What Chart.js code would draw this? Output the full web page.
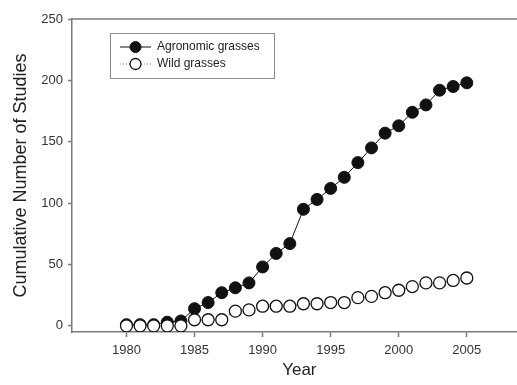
<!DOCTYPE html>
<html>
<head>
<meta charset="utf-8">
<script src="https://cdn.jsdelivr.net/npm/chart.js@4.4.1/dist/chart.umd.min.js"></script>
<style>
  html, body { margin: 0; padding: 0; background: #fff; overflow: hidden; }
  #wrap { width: 517px; height: 385px; overflow: hidden; }
</style>
</head>
<body>
<div id="wrap"><canvas id="chart" width="534" height="385"></canvas></div>
<script>
// cumulative study counts per year
const years = [1980, 1981, 1982, 1983, 1984, 1985, 1986, 1987, 1988, 1989, 1990, 1991, 1992,
  1993, 1994, 1995, 1996, 1997, 1998, 1999, 2000, 2001, 2002, 2003, 2004, 2005];
const agronomic = [1, 1, 1, 3, 4, 14, 19, 27, 31, 35, 48, 59, 67,
  95, 103, 112, 121, 133, 145, 157, 163, 174, 180, 192, 195, 198];
const wild = [0, 0, 0, 0, 0, 5, 5, 5, 12, 13, 16, 16, 16,
  18, 18, 19, 19, 23, 24, 27, 29, 32, 35, 35, 37, 39];
const yTicks = [0, 50, 100, 150, 200, 250];
const xTicks = [1980, 1985, 1990, 1995, 2000, 2005];

const FONT = "'Liberation Sans', Arial, sans-serif";
const AXIS = "#7a7a7a";

const toXY = (vals) => vals.map((v, i) => ({ x: years[i], y: v }));

// top border line and boxed legend with line + marker samples
const framePlugin = {
  id: "frame",
  afterDraw(chart) {
    const ctx = chart.ctx;
    const a = chart.chartArea;
    ctx.save();
    ctx.strokeStyle = AXIS;
    ctx.lineWidth = 1.5;
    ctx.beginPath();
    ctx.moveTo(a.left, a.top);
    ctx.lineTo(a.right, a.top);
    ctx.stroke();

    ctx.strokeStyle = "#8a8a8a";
    ctx.lineWidth = 1;
    ctx.strokeRect(110.5, 33.5, 164, 45);

    const rows = chart.data.datasets;
    rows.forEach((ds, i) => {
      const y = 47 + i * 17;
      ctx.strokeStyle = ds.borderColor;
      ctx.lineWidth = ds.borderWidth;
      ctx.setLineDash(ds.borderDash || []);
      ctx.beginPath();
      ctx.moveTo(120, y);
      ctx.lineTo(151, y);
      ctx.stroke();
      ctx.setLineDash([]);
      ctx.beginPath();
      ctx.arc(135.5, y, 5.5, 0, Math.PI * 2);
      ctx.fillStyle = ds.pointBackgroundColor;
      ctx.fill();
      ctx.strokeStyle = ds.pointBorderColor;
      ctx.lineWidth = ds.pointBorderWidth;
      ctx.stroke();
      ctx.fillStyle = "#222";
      ctx.font = "12px " + FONT;
      ctx.textBaseline = "middle";
      ctx.fillText(ds.label, 157, y);
    });
    ctx.restore();
  },
};

new Chart(document.getElementById("chart"), {
  type: "line",
  data: {
    datasets: [
      {
        label: "Agronomic grasses",
        data: toXY(agronomic),
        borderColor: "#111",
        borderWidth: 1,
        pointRadius: 6,
        pointBackgroundColor: "#111",
        pointBorderColor: "#111",
        pointBorderWidth: 1,
        order: 1,
      },
      {
        label: "Wild grasses",
        data: toXY(wild),
        borderColor: "#777",
        borderWidth: 1,
        borderDash: [1, 2],
        pointRadius: 6,
        pointBackgroundColor: "#fff",
        pointBorderColor: "#111",
        pointBorderWidth: 1.3,
        order: 0,
      },
    ],
  },
  options: {
    responsive: false,
    animation: false,
    layout: { padding: { top: 19, left: 0, right: 0, bottom: 0 } },
    plugins: { legend: { display: false }, tooltip: { enabled: false } },
    scales: {
      x: {
        type: "linear",
        min: 1976,
        max: 2009.4,
        afterBuildTicks: (s) => { s.ticks = xTicks.map((v) => ({ value: v })); },
        afterFit: (s) => { s.height = 53; },
        grid: { drawOnChartArea: false, tickLength: 5, tickColor: AXIS, tickWidth: 1.5 },
        border: { color: AXIS, width: 1.5 },
        ticks: {
          color: "#333", font: { family: FONT, size: 13 }, padding: 6, maxRotation: 0,
          callback: (v) => String(v),
        },
        title: { display: true, text: "Year", color: "#222", font: { family: FONT, size: 17 }, padding: { top: 2 } },
      },
      y: {
        min: -5,
        max: 250,
        afterBuildTicks: (s) => { s.ticks = yTicks.map((v) => ({ value: v })); },
        afterFit: (s) => { s.width = 72; },
        grid: { drawOnChartArea: false, tickLength: 4, tickColor: AXIS, tickWidth: 1.5 },
        border: { color: AXIS, width: 1.5 },
        ticks: { color: "#333", font: { family: FONT, size: 13 }, padding: 5 },
        title: {
          display: true, text: "Cumulative Number of Studies", color: "#222",
          font: { family: FONT, size: 18 }, padding: { top: 10, bottom: 0 },
        },
      },
    },
  },
  plugins: [framePlugin],
});
</script>
</body>
</html>
